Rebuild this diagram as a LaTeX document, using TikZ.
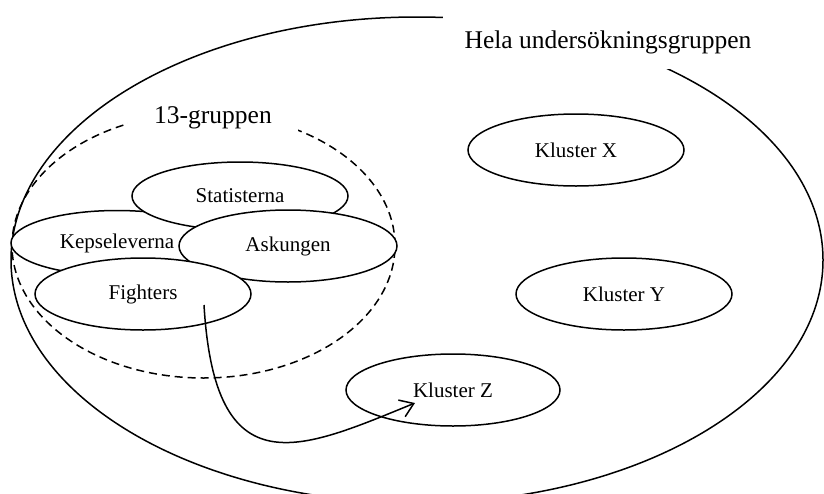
\documentclass[tikz,border=0pt]{standalone}
\usepackage{fontspec}
\setmainfont{Liberation Serif}
\usepackage{tikz}
\usetikzlibrary{arrows.meta, shapes.geometric}
\tikzset{
  GRP/.style={% Style for the small group ellipses
      ellipse, line width=1.5pt,
      draw=black,
      fill=white,
      minimum width=216pt,
      minimum height=72pt,
      inner sep=0pt,
      font=\fontsize{21}{25}\selectfont
  },
  RING/.style={% Style for the large empty ellipses
      ellipse, line width=1.5pt,
      draw=black,
      inner sep=0pt
  },
  TAG/.style={% Style for the labels breaking a ring
      rectangle,
      fill=white,
      inner sep=0pt,
      font=\fontsize{25.5}{30}\selectfont
  },
  link/.style={% Style for the arrow
      line width=1.5pt,
      -{Straight Barb[length=13pt,width=18pt]}
  }
}
\begin{document}
\begin{tikzpicture}[x=1pt,y=-1pt]
  \useasboundingbox (0,0) rectangle (824,493);
  \clip (0,0) rectangle (824,493);
  % whole group
  \node[RING, minimum width=812pt, minimum height=486pt] (hela) at (417,260) {};
  \node[TAG, minimum width=330pt, minimum height=54pt] (helaTag) at (608,42) {Hela undersökningsgruppen};
  % the 13 group
  \node[RING, dash pattern=on 8pt off 5pt, minimum width=383pt, minimum height=265pt] (tretton) at (203.5,245.5) {};
  \node[TAG, minimum width=170pt, minimum height=30pt] (trettonTag) at (213,118) {13-gruppen};
  % clusters
  \node[GRP] (klusterX) at (576,150) {Kluster X};
  \node[GRP] (klusterY) at (624,294) {Kluster Y};
  \node[GRP, minimum width=214pt] (klusterZ) at (453,390) {Kluster Z};
  % sub groups, later ones on top
  \node[GRP, minimum width=212pt, minimum height=65pt] (kepsel) at (117,243) {Kepseleverna};
  \node[GRP, minimum height=68pt] (statist) at (240,196) {Statisterna};
  \node[GRP, minimum width=218pt] (askung) at (288,246) {Askungen};
  \node[GRP] (fighter) at (143,294) {Fighters};
  % move from Fighters to Kluster Z
  \coordinate (fStart) at (204,305);
  \coordinate (zEnd) at (415,403);
  \draw[link] (fStart) .. controls (215,490) and (300,450) .. (zEnd);
\end{tikzpicture}
\end{document}
